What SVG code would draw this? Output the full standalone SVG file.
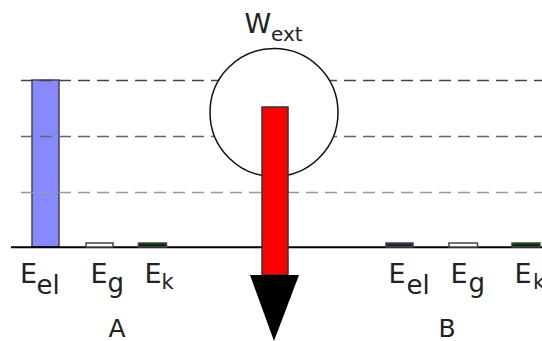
<svg xmlns="http://www.w3.org/2000/svg" width="542" height="341" viewBox="0 0 542 341">
<style>
text{font-family:"DejaVu Sans","Liberation Sans",sans-serif;fill:#222}
.big{font-size:27px}
.sub{font-size:26px}
.subk{font-size:21px}
.lbl{font-size:25px;text-anchor:middle}
.dash{stroke-width:1.5;stroke-dasharray:12 7;fill:none}
.bar{stroke:#444;stroke-width:1.5}
</style>
<rect width="542" height="341" fill="#fff"/>
<g id="barA_Eel"><rect class="bar" x="32" y="80" width="27" height="167" fill="#8888ff"/></g>
<g id="grid">
<line class="dash" x1="21" y1="80.5" x2="542" y2="80.5" stroke="#444"/>
<line class="dash" x1="21" y1="136.5" x2="542" y2="136.5" stroke="#666"/>
<line class="dash" x1="21" y1="192.5" x2="542" y2="192.5" stroke="#999"/>
</g>
<g id="wext">
<circle cx="274" cy="112.5" r="64" fill="#fff" stroke="#111" stroke-width="1.5"/>
<text class="big" x="244.5" y="33">W</text>
<text x="271" y="41" style="font-size:20px">ext</text>
</g>
<g id="baseline"><line x1="11" y1="247.3" x2="542" y2="247.3" stroke="#000" stroke-width="2"/></g>
<g id="barA_Eg"><rect class="bar" x="86" y="243" width="27" height="4" fill="#fff" stroke="#777"/></g>
<g id="barA_Ek"><rect class="bar" x="138.5" y="243" width="28" height="4" fill="#003300" stroke="#222"/></g>
<g id="barB_Eel"><rect class="bar" x="386" y="243" width="27" height="4" fill="#222244" stroke="#222"/></g>
<g id="barB_Eg"><rect class="bar" x="449" y="243" width="28.5" height="4" fill="#fff" stroke="#777"/></g>
<g id="barB_Ek"><rect class="bar" x="512" y="243" width="28" height="4" fill="#003300" stroke="#222"/></g>
<g id="connectors">
<rect x="262" y="107" width="26" height="168" fill="#ff0000" stroke="#333" stroke-width="1.5"/>
<polygon points="250,275 299,275 274,341" fill="#000"/>
</g>
<g id="labelsA">
<text class="big" x="20" y="283">E</text><text class="sub" x="36.6" y="294">el</text>
<text class="big" x="90.5" y="283">E</text><text class="sub" x="107.5" y="292">g</text>
<text class="big" x="144.5" y="283">E</text><text class="subk" x="161.5" y="289">k</text>
<text class="lbl" x="117" y="337">A</text>
</g>
<g id="labelsB">
<text class="big" x="388.5" y="283">E</text><text class="sub" x="406.5" y="294">el</text>
<text class="big" x="450.5" y="283">E</text><text class="sub" x="468.5" y="292">g</text>
<text class="big" x="514.5" y="283">E</text><text class="subk" x="533" y="289">k</text>
<text class="lbl" x="447" y="337">B</text>
</g>
</svg>
